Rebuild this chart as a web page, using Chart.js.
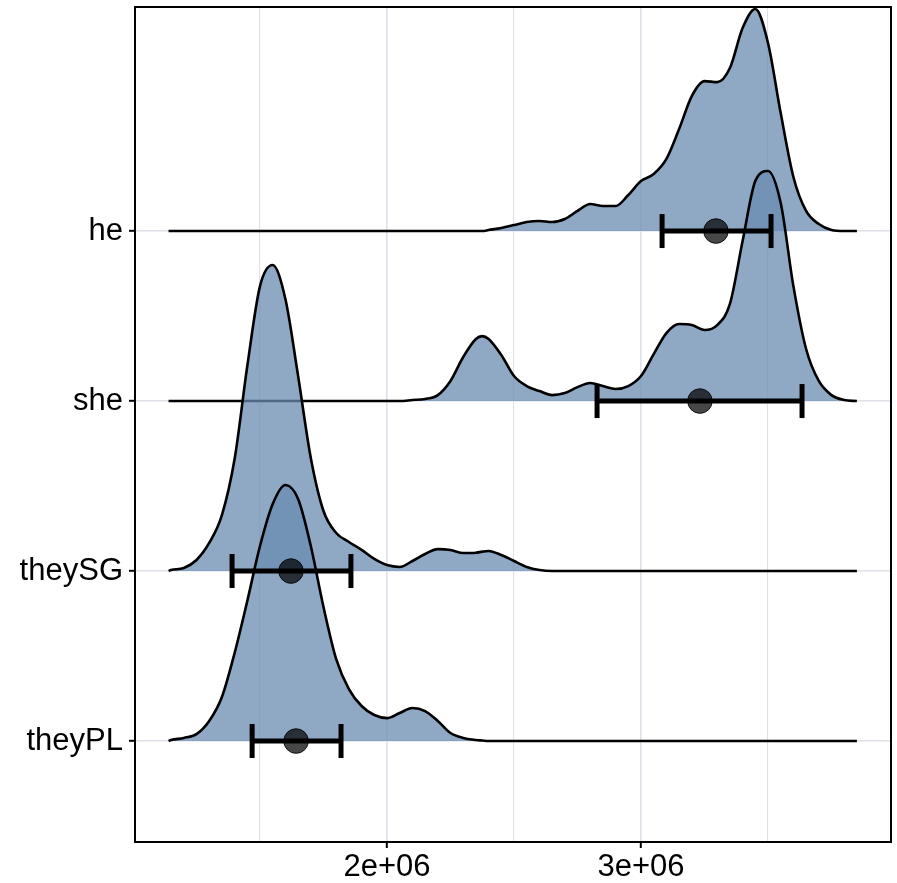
<!DOCTYPE html>
<html>
<head>
<meta charset="utf-8">
<script src="https://cdn.jsdelivr.net/npm/chart.js@4/dist/chart.umd.min.js"></script>
<style>
  html, body { margin: 0; padding: 0; background: #ffffff; }
  #wrap { width: 897px; height: 883px; }
</style>
</head>
<body>
<div id="wrap"><canvas id="chart" width="897" height="883"></canvas></div>
<script>
// Ridge rows, bottom to top
const categories = ['theyPL', 'theySG', 'she', 'he'];

// Shared evaluation grid for the density curves
const xGrid = [
  1.14e6, 1.15e6, 1.2e6, 1.25e6, 1.3e6, 1.35e6, 1.4e6, 1.45e6, 1.5e6, 1.55e6,
  1.6e6, 1.65e6, 1.7e6, 1.75e6, 1.8e6, 1.85e6, 1.9e6, 1.95e6, 2.0e6, 2.05e6,
  2.1e6, 2.15e6, 2.2e6, 2.25e6, 2.3e6, 2.35e6, 2.375e6,
  2.4e6, 2.45e6, 2.5e6, 2.55e6, 2.6e6, 2.65e6, 2.7e6, 2.75e6, 2.8e6, 2.85e6,
  2.9e6, 2.95e6, 3.0e6, 3.05e6, 3.1e6, 3.15e6, 3.2e6, 3.25e6, 3.3e6, 3.35e6,
  3.4e6, 3.45e6, 3.5e6, 3.55e6, 3.6e6, 3.65e6, 3.7e6, 3.75e6, 3.8e6, 3.85e6
];

// Scaled density heights (in ridge rows) for each pronoun
const theyPLDensity = [
  0, 0.006, 0.018, 0.041, 0.118, 0.259, 0.518, 0.824, 1.147, 1.394,
  1.506, 1.424, 1.147, 0.788, 0.482, 0.306, 0.206, 0.153, 0.135, 0.165,
  0.194, 0.176, 0.118, 0.047, 0.018, 0.006, 0.003,
  0, 0, 0, 0, 0, 0, 0, 0, 0, 0,
  0, 0, 0, 0, 0, 0, 0, 0, 0, 0,
  0, 0, 0, 0, 0, 0, 0, 0, 0, 0
];
const theySGDensity = [
  0, 0.006, 0.018, 0.065, 0.165, 0.329, 0.659, 1.206, 1.676, 1.800,
  1.600, 1.147, 0.665, 0.353, 0.224, 0.171, 0.124, 0.071, 0.035, 0.024,
  0.059, 0.100, 0.129, 0.124, 0.106, 0.108, 0.114,
  0.118, 0.094, 0.059, 0.024, 0.006, 0, 0, 0, 0, 0,
  0, 0, 0, 0, 0, 0, 0, 0, 0, 0,
  0, 0, 0, 0, 0, 0, 0, 0, 0, 0
];
const sheDensity = [
  0, 0, 0, 0, 0, 0, 0, 0, 0, 0,
  0, 0, 0, 0, 0, 0, 0, 0, 0, 0,
  0.006, 0.012, 0.035, 0.118, 0.259, 0.365, 0.382,
  0.365, 0.271, 0.147, 0.088, 0.059, 0.035, 0.047, 0.082, 0.106, 0.088,
  0.071, 0.088, 0.147, 0.276, 0.400, 0.453, 0.447, 0.418, 0.447, 0.571,
  0.941, 1.294, 1.353, 1.165, 0.676, 0.306, 0.118, 0.035, 0.006, 0
];
const heDensity = [
  0, 0, 0, 0, 0, 0, 0, 0, 0, 0,
  0, 0, 0, 0, 0, 0, 0, 0, 0, 0,
  0, 0, 0, 0, 0, 0, 0,
  0.006, 0.018, 0.035, 0.053, 0.059, 0.053, 0.071, 0.118, 0.159, 0.147,
  0.147, 0.212, 0.294, 0.335, 0.424, 0.600, 0.794, 0.882, 0.876, 0.959,
  1.194, 1.306, 1.106, 0.694, 0.318, 0.118, 0.041, 0.006, 0, 0
];

// Mean and interval per row (same order as categories)
const meanValues = [1.642e6, 1.622e6, 3.232e6, 3.295e6];
const ciLow      = [1.469e6, 1.390e6, 2.827e6, 3.083e6];
const ciHigh     = [1.819e6, 1.858e6, 3.634e6, 3.512e6];

// X axis breaks
const xBreaks      = [1.5e6, 2.0e6, 2.5e6, 3.0e6, 3.5e6];
const xBreakLabels = ['', '2e+06', '', '3e+06', ''];

const densities = [theyPLDensity, theySGDensity, sheDensity, heDensity];

const ridgeFill = 'rgba(106, 140, 178, 0.75)';
const gridColor = 'rgb(222, 224, 234)';
const font = { family: "'Liberation Sans', Arial, sans-serif", size: 31 };

const datasets = [];

// Density ridges: the lower rows are drawn over the upper ones
categories.forEach((name, i) => {
  const base = i + 1;
  datasets.push({
    type: 'line',
    label: name,
    data: xGrid.map((x, k) => ({ x: x, y: base + densities[i][k] })),
    borderColor: '#000000',
    borderWidth: 2.6,
    backgroundColor: ridgeFill,
    fill: { value: base },
    pointRadius: 0,
    cubicInterpolationMode: 'monotone',
    order: 10 + i
  });
});

// Interval bars with end caps
categories.forEach((name, i) => {
  datasets.push({
    type: 'line',
    label: name + ' interval',
    data: [{ x: ciLow[i], y: i + 1 }, { x: ciHigh[i], y: i + 1 }],
    borderColor: '#000000',
    borderWidth: 5,
    borderCapStyle: 'butt',
    fill: false,
    pointStyle: 'line',
    rotation: 90,
    pointRadius: 17,
    pointBorderWidth: 5,
    pointBorderColor: '#000000',
    pointBackgroundColor: '#000000',
    order: 2
  });
});

// Means
datasets.push({
  type: 'scatter',
  label: 'mean',
  data: meanValues.map((v, i) => ({ x: v, y: i + 1 })),
  pointRadius: 12.3,
  backgroundColor: 'rgba(0, 0, 0, 0.72)',
  borderColor: 'rgba(0, 0, 0, 0.85)',
  borderWidth: 1,
  order: 1
});

// Panel frame drawn over the plot
const panelFrame = {
  id: 'panelFrame',
  afterDraw(chart) {
    const a = chart.chartArea;
    const ctx = chart.ctx;
    ctx.save();
    ctx.strokeStyle = '#000000';
    ctx.lineWidth = 2;
    ctx.strokeRect(a.left, a.top, a.right - a.left, a.bottom - a.top);
    ctx.restore();
  }
};

// Axes keep fixed sizes and no label overhang padding
function noOverhang(scale) {
  scale.paddingTop = 0;
  scale.paddingBottom = 0;
  scale.paddingLeft = 0;
  scale.paddingRight = 0;
}

new Chart(document.getElementById('chart'), {
  type: 'line',
  data: { datasets },
  options: {
    responsive: false,
    animation: false,
    layout: { autoPadding: false, padding: { top: 7, right: 6, left: 0, bottom: 0 } },
    plugins: {
      legend: { display: false },
      tooltip: { enabled: false },
      title: { display: false }
    },
    scales: {
      x: {
        type: 'linear',
        min: 1.00787e6,
        max: 3.98425e6,
        afterFit(scale) { scale.height = 41; noOverhang(scale); },
        afterBuildTicks(scale) { scale.ticks = xBreaks.map(v => ({ value: v })); },
        border: { display: false },
        grid: {
          color: gridColor,
          lineWidth: ctx => (xBreakLabels[ctx.index] ? 1.6 : 1.1),
          drawTicks: true,
          tickLength: 6,
          tickWidth: 2,
          tickColor: ctx => (xBreakLabels[ctx.index] ? '#000000' : 'rgba(0,0,0,0)')
        },
        ticks: {
          autoSkip: false,
          maxRotation: 0,
          padding: 1,
          color: '#000000',
          font: font,
          callback: (v, i) => xBreakLabels[i]
        }
      },
      y: {
        type: 'linear',
        min: 0.406,
        max: 5.318,
        afterFit(scale) { scale.width = 135; noOverhang(scale); },
        afterBuildTicks(scale) { scale.ticks = categories.map((c, i) => ({ value: i + 1 })); },
        border: { display: false },
        grid: {
          color: gridColor,
          lineWidth: 1.6,
          drawTicks: true,
          tickLength: 6,
          tickWidth: 2,
          tickColor: '#000000'
        },
        ticks: {
          autoSkip: false,
          padding: 6,
          color: '#000000',
          font: font,
          callback: (v, i) => categories[i]
        }
      }
    }
  },
  plugins: [panelFrame]
});
</script>
</body>
</html>
